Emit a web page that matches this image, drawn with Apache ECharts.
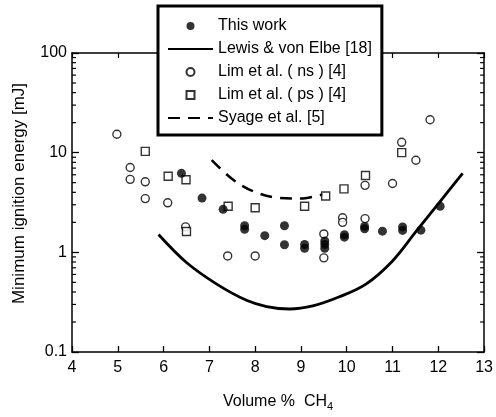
<!DOCTYPE html>
<html>
<head>
<meta charset="utf-8">
<script src="https://cdn.jsdelivr.net/npm/echarts@6/dist/echarts.min.js"></script>
<style>
  html, body { margin: 0; padding: 0; background: #fff; }
  #chart { width: 496px; height: 417px; }
</style>
</head>
<body>
<div id="chart"></div>
<script>
// data: [volume % CH4, minimum ignition energy mJ]
const thisWork = [
  [6.39, 6.2], [6.84, 3.5], [7.3, 2.7], [7.77, 1.85], [7.77, 1.7],
  [8.21, 1.47], [8.64, 1.85], [8.64, 1.19], [9.08, 1.2], [9.08, 1.1],
  [9.52, 1.3], [9.52, 1.2], [9.52, 1.1], [9.95, 1.5], [9.95, 1.42],
  [10.39, 1.82], [10.39, 1.72], [10.78, 1.63], [11.22, 1.8], [11.22, 1.66],
  [11.62, 1.67], [12.04, 2.9]
];
const lewisVonElbe = [
  [5.89, 1.51], [6.5, 0.79], [7.16, 0.48], [7.81, 0.33], [8.25, 0.286],
  [8.75, 0.27], [9.26, 0.29], [9.84, 0.358], [10.42, 0.48], [11.0, 0.82],
  [11.51, 1.61], [12.02, 3.16], [12.53, 6.2]
];
const limNs = [
  [4.98, 15.3], [5.27, 7.1], [5.27, 5.4], [5.6, 5.1], [5.6, 3.46],
  [6.09, 3.14], [6.48, 1.8], [7.4, 0.92], [8.0, 0.92], [9.5, 1.53],
  [9.5, 0.88], [9.91, 2.22], [9.91, 2.0], [10.4, 2.18], [10.4, 4.7],
  [11.0, 4.9], [11.2, 12.7], [11.51, 8.4], [11.82, 21.4]
];
const limPs = [
  [5.6, 10.3], [6.1, 5.8], [6.49, 5.35], [6.5, 1.62], [7.41, 2.9],
  [8.0, 2.8], [9.08, 2.9], [9.54, 3.67], [9.94, 4.33], [10.41, 5.9],
  [11.2, 10.0]
];
const syage = [
  [7.05, 8.4], [7.52, 5.35], [7.95, 4.11], [8.46, 3.54], [8.97, 3.46], [9.48, 3.81]
];
const minorTickValues = [0.2, 0.3, 0.4, 0.5, 0.6, 0.7, 0.8, 0.9,
  2, 3, 4, 5, 6, 7, 8, 9, 20, 30, 40, 50, 60, 70, 80, 90];
const xMin = 4, xMax = 13, yMin = 0.1, yMax = 100;

const font = 'Liberation Sans, Arial, Helvetica, sans-serif';
const squarePath = 'path://M0,0H10V10H0Z';
const hideSymbol = { color: 'rgba(0,0,0,0)', borderWidth: 0, opacity: 0 };
const chart = echarts.init(document.getElementById('chart'));

chart.setOption({
  backgroundColor: '#fff',
  animation: false,
  textStyle: { fontFamily: font, color: '#000' },
  grid: { left: 72, right: 11, top: 53, bottom: 57, show: false },
  legend: {
    orient: 'vertical',
    left: 158, top: 6,
    padding: [12, 10, 9, 9],
    itemGap: 7,
    itemWidth: 45, itemHeight: 8,
    backgroundColor: '#fff',
    borderColor: '#000', borderWidth: 3,
    textStyle: { fontFamily: font, fontSize: 16, color: '#000' },
    data: [
      { name: 'This work' },
      { name: 'Lewis & von Elbe [18]', itemStyle: hideSymbol },
      { name: 'Lim et al. ( ns ) [4]' },
      { name: 'Lim et al. ( ps ) [4]', icon: squarePath },
      { name: 'Syage et al. [5]', itemStyle: hideSymbol }
    ],
    z: 20
  },
  xAxis: [{
    type: 'value', min: xMin, max: xMax, interval: 1,
    name: 'Volume %  CH{sub|4}',
    nameLocation: 'middle', nameGap: 40,
    nameTextStyle: {
      fontFamily: font, fontSize: 16, color: '#000',
      rich: { sub: { fontSize: 11, verticalAlign: 'bottom', padding: [9, 0, 0, 0], fontFamily: font } }
    },
    axisLine: { lineStyle: { color: '#000', width: 1.5 } },
    axisTick: { inside: true, length: 6, lineStyle: { color: '#000', width: 1.3 } },
    axisLabel: { fontSize: 16, color: '#000', margin: 8, fontFamily: font },
    splitLine: { show: false }
  }, {
    type: 'value', min: xMin, max: xMax, interval: 1, position: 'top',
    axisLine: { lineStyle: { color: '#000', width: 1.5 } },
    axisTick: { inside: true, length: 5, lineStyle: { color: '#000', width: 1.2 } },
    axisLabel: { show: false }, splitLine: { show: false }
  }],
  yAxis: [{
    type: 'log', logBase: 10, min: yMin, max: yMax,
    name: 'Minimum ignition energy [mJ]',
    nameLocation: 'middle', nameGap: 44, nameRotate: 90,
    nameTextStyle: { fontFamily: font, fontSize: 17, color: '#000', padding: [0, 0, 0, 18] },
    axisLine: { show: true, lineStyle: { color: '#000', width: 1.5 } },
    axisTick: { inside: true, length: 7, lineStyle: { color: '#000', width: 1.3 } },
    axisLabel: { fontSize: 16, color: '#000', margin: 5, fontFamily: font,
      formatter: v => String(v) },
    splitLine: { show: false }
  }, {
    type: 'log', logBase: 10, min: yMin, max: yMax, position: 'right',
    axisLine: { show: true, lineStyle: { color: '#000', width: 1.5 } },
    axisTick: { inside: true, length: 7, lineStyle: { color: '#000', width: 1.3 } },
    axisLabel: { show: false }, splitLine: { show: false }
  }],
  series: [
    {
      name: 'minor ticks', type: 'custom', silent: true, z: 1,
      data: minorTickValues.map(v => [v]),
      renderItem: (params, api) => {
        const v = api.value(0);
        const l = api.coord([xMin, v]);
        const r = api.coord([xMax, v]);
        const style = { stroke: '#000', lineWidth: 1.2 };
        return {
          type: 'group',
          children: [
            { type: 'line', shape: { x1: l[0], y1: l[1], x2: l[0] + 4, y2: l[1] }, style },
            { type: 'line', shape: { x1: r[0], y1: r[1], x2: r[0] - 4, y2: r[1] }, style }
          ]
        };
      },
      encode: { y: 0 }
    },
    {
      name: 'Lewis & von Elbe [18]', type: 'line', data: lewisVonElbe,
      smooth: 0.35, symbol: 'none',
      lineStyle: { color: '#000', width: 2.8 }, itemStyle: { color: '#000' }, z: 3
    },
    {
      name: 'Syage et al. [5]', type: 'line', data: syage,
      smooth: 0.35, symbol: 'none',
      lineStyle: { color: '#000', width: 2.5, type: [12, 8] }, itemStyle: { color: '#000' }, z: 3
    },
    {
      name: 'Lim et al. ( ns ) [4]', type: 'scatter', data: limNs,
      symbol: 'circle', symbolSize: 8,
      itemStyle: { color: '#fff', borderColor: '#000', borderWidth: 1.4 }, z: 4
    },
    {
      name: 'Lim et al. ( ps ) [4]', type: 'scatter', data: limPs,
      symbol: 'rect', symbolSize: 8,
      itemStyle: { color: '#fff', borderColor: '#000', borderWidth: 1.4 }, z: 4
    },
    {
      name: 'This work', type: 'scatter', data: thisWork,
      symbol: 'circle', symbolSize: 9,
      itemStyle: { color: '#000' }, z: 5
    }
  ]
});
</script>
</body>
</html>
